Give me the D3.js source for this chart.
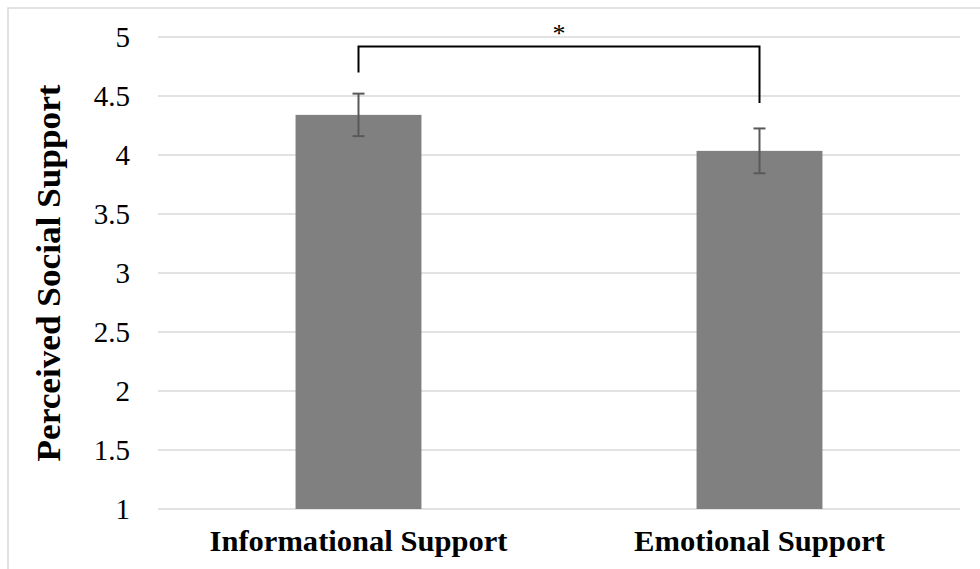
<!DOCTYPE html>
<html>
<head>
<meta charset="utf-8">
<script src="https://cdn.jsdelivr.net/npm/d3@7"></script>
<style>
  html, body { margin: 0; padding: 0; background: #fff; }
  svg { display: block; }
  text { font-family: "Liberation Serif", "Times New Roman", serif; }
</style>
</head>
<body>
<svg id="chart" width="980" height="569"></svg>
<script>
// Mean perceived support by type, with error bar half-widths
const categories = ["Informational Support", "Emotional Support"];
const means = [4.34, 4.035];
const errors = [0.18, 0.19];
const yTicks = [1, 1.5, 2, 2.5, 3, 3.5, 4, 4.5, 5];
const yTitle = "Perceived Social Support";
const sigLabel = "*";

const svg = d3.select("#chart");
const W = 980, H = 569;
const serif = "'Liberation Serif', 'Times New Roman', serif";

// outer chart frame
svg.append("rect")
  .attr("x", 8).attr("y", 8)
  .attr("width", W + 10).attr("height", H + 10)
  .attr("fill", "none").attr("stroke", "#d9d9d9").attr("stroke-width", 1.5);

const x = d3.scaleBand().domain(categories).range([158, 960]).padding(0);
const y = d3.scaleLinear().domain([1, 5]).range([509, 37]);
const barW = x.bandwidth() * 0.314;

// gridlines
svg.append("g").selectAll("line").data(yTicks).join("line")
  .attr("x1", 158).attr("x2", 960)
  .attr("y1", d => y(d)).attr("y2", d => y(d))
  .attr("stroke", "#d9d9d9").attr("stroke-width", 1.5);

// y axis tick labels
const yAxis = d3.axisLeft(y).tickValues(yTicks).tickSize(0).tickPadding(28)
  .tickFormat(d => String(d));
const gy = svg.append("g").attr("transform", "translate(158,0)").call(yAxis);
gy.attr("font-family", serif);
gy.select(".domain").remove();
gy.selectAll("text")
  .attr("font-size", 29).attr("fill", "#000").attr("dy", "0.34em");

// bars
svg.append("g").selectAll("rect").data(categories).join("rect")
  .attr("x", d => x(d) + x.bandwidth() / 2 - barW / 2)
  .attr("width", barW)
  .attr("y", (d, i) => y(means[i]))
  .attr("height", (d, i) => y(1) - y(means[i]))
  .attr("fill", "#808080");

// error bars
const eb = svg.append("g").attr("stroke", "#595959").attr("stroke-width", 2);
categories.forEach((c, i) => {
  const cx = x(c) + x.bandwidth() / 2;
  const top = y(means[i] + errors[i]), bot = y(means[i] - errors[i]);
  eb.append("line").attr("x1", cx).attr("x2", cx).attr("y1", top).attr("y2", bot);
  eb.append("line").attr("x1", cx - 6).attr("x2", cx + 6).attr("y1", top).attr("y2", top);
  eb.append("line").attr("x1", cx - 6).attr("x2", cx + 6).attr("y1", bot).attr("y2", bot);
});

// category labels
const labelLen = [298, 251];
svg.append("g").selectAll("text").data(categories).join("text")
  .attr("x", d => x(d) + x.bandwidth() / 2)
  .attr("y", 551)
  .attr("text-anchor", "middle")
  .attr("font-family", serif)
  .attr("font-size", 29).attr("font-weight", "bold")
  .attr("textLength", (d, i) => labelLen[i])
  .attr("lengthAdjust", "spacingAndGlyphs")
  .text(d => d);

// y title
svg.append("text")
  .attr("transform", "translate(60,273) rotate(-90)")
  .attr("text-anchor", "middle")
  .attr("font-family", serif)
  .attr("font-size", 33).attr("font-weight", "bold")
  .attr("textLength", 377)
  .attr("lengthAdjust", "spacingAndGlyphs")
  .text(yTitle);

// significance bracket
const c0 = x(categories[0]) + x.bandwidth() / 2;
const c1 = x(categories[1]) + x.bandwidth() / 2;
const yBr = y(4.92);
svg.append("path")
  .attr("d", `M${c0},${y(4.7)}V${yBr}H${c1}V${y(4.44)}`)
  .attr("fill", "none").attr("stroke", "#000").attr("stroke-width", 2);
svg.append("text")
  .attr("x", (c0 + c1) / 2).attr("y", 42)
  .attr("text-anchor", "middle")
  .attr("font-family", serif)
  .attr("font-size", 26)
  .text(sigLabel);
</script>
</body>
</html>
